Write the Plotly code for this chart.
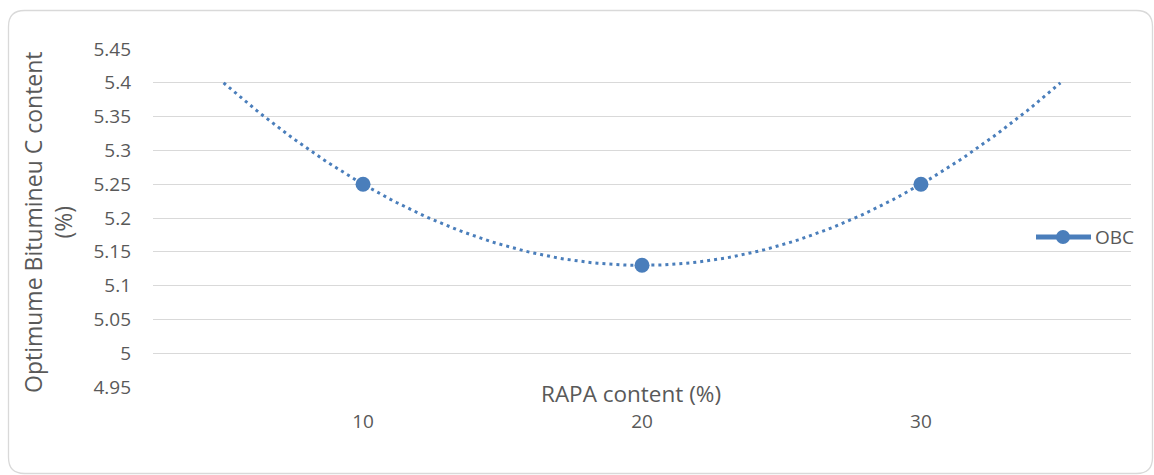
import numpy as np
import plotly.graph_objects as go

# RAPA content (%) and optimum bitumen content (%)
rapa = [10, 20, 30]
obc = [5.25, 5.13, 5.25]

# Second-order polynomial trendline, projected 5 units on each side
trend_x_start, trend_x_end = 5, 35
coef = np.polyfit(rapa, obc, 2)
tx = np.linspace(trend_x_start, trend_x_end, 151)
ty = np.polyval(coef, tx)

y_ticks = [4.95, 5.0, 5.05, 5.1, 5.15, 5.2, 5.25, 5.3, 5.35, 5.4, 5.45]
y_tick_text = ["4.95", "5", "5.05", "5.1", "5.15", "5.2", "5.25", "5.3", "5.35", "5.4", "5.45"]
x_ticks = [10, 20, 30]

blue = "#4a7ebb"
grey = "#595959"
font = "Open Sans, sans-serif"

fig = go.Figure()
fig.add_trace(go.Scatter(
    x=tx, y=ty, mode="lines", showlegend=False, hoverinfo="skip",
    line=dict(color=blue, width=3, dash="3px,4px"),
))
fig.add_trace(go.Scatter(
    x=rapa, y=obc, mode="markers", name="OBC", showlegend=False,
    marker=dict(color=blue, size=15),
))

W, H = 1154, 475
ml, mr, mt, mb = 153, 23, 49, 88
pw, ph = W - ml - mr, H - mt - mb


def px(x):
    return (x - ml) / pw


def py(y):
    return (H - mb - y) / ph


# rounded chart border
x0, x1, y0, y1, r = 8.5, 1152.5, 10.5, 473.5, 16
path = (
    f"M {px(x0 + r)} {py(y0)} L {px(x1 - r)} {py(y0)} "
    f"Q {px(x1)} {py(y0)} {px(x1)} {py(y0 + r)} "
    f"L {px(x1)} {py(y1 - r)} Q {px(x1)} {py(y1)} {px(x1 - r)} {py(y1)} "
    f"L {px(x0 + r)} {py(y1)} Q {px(x0)} {py(y1)} {px(x0)} {py(y1 - r)} "
    f"L {px(x0)} {py(y0 + r)} Q {px(x0)} {py(y0)} {px(x0 + r)} {py(y0)} Z"
)

# legend drawn as line + marker + label
leg_y = py(237)
shapes = [
    dict(type="path", xref="paper", yref="paper", path=path,
         line=dict(color="#d9d9d9", width=1.3), layer="below"),
    dict(type="line", xref="paper", yref="paper",
         x0=px(1036), x1=px(1091), y0=leg_y, y1=leg_y,
         line=dict(color=blue, width=5)),
    dict(type="circle", xref="paper", yref="paper",
         x0=px(1056), x1=px(1070), y0=py(244), y1=py(230),
         fillcolor=blue, line=dict(color=blue, width=0)),
]

annotations = [
    dict(text="OBC", xref="paper", yref="paper", x=px(1093), y=leg_y,
         xanchor="left", yanchor="middle", showarrow=False,
         font=dict(family=font, size=19, color=grey)),
    dict(text="RAPA content (%)", xref="paper", yref="paper", x=px(631), y=py(393),
         xanchor="center", yanchor="middle", showarrow=False,
         font=dict(family=font, size=22.5, color=grey)),
    dict(text="Optimume Bitumineu C content<br>(%)", xref="paper", yref="paper",
         x=px(48), y=py(222), textangle=-90, xanchor="center", yanchor="middle",
         showarrow=False, align="center",
         font=dict(family=font, size=23, color=grey)),
]

fig.update_layout(
    width=W, height=H,
    margin=dict(l=ml, r=mr, t=mt, b=mb),
    paper_bgcolor="white", plot_bgcolor="white",
    showlegend=False,
    shapes=shapes, annotations=annotations,
    font=dict(family=font, size=19, color=grey),
    xaxis=dict(
        range=[2.47, 37.53], tickvals=x_ticks, ticktext=[str(v) for v in x_ticks],
        showgrid=False, zeroline=False, showline=False, ticks="",
        ticklabelstandoff=21, tickfont=dict(family=font, size=19, color=grey),
    ),
    yaxis=dict(
        range=[4.95, 5.45], tickvals=y_ticks, ticktext=y_tick_text,
        showgrid=True, gridcolor="#d9d9d9", gridwidth=1.3, zeroline=False,
        showline=False, ticks="", ticklabelstandoff=21,
        tickfont=dict(family=font, size=19, color=grey),
    ),
)

fig.write_html("out.html")
